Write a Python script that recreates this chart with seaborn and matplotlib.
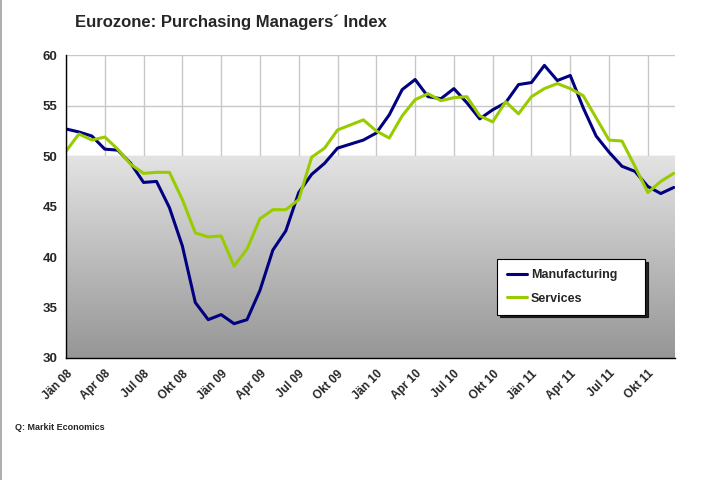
import numpy as np
import pandas as pd
import matplotlib
matplotlib.use("Agg")
import matplotlib.pyplot as plt
import seaborn as sns

months = ["Jän", "Feb", "Mär", "Apr", "Mai", "Jun", "Jul", "Aug", "Sep", "Okt", "Nov", "Dez"]
years = ["08", "09", "10", "11"]
period_labels = [f"{m} {y}" for y in years for m in months]

manufacturing = [52.7, 52.4, 52.0, 50.7, 50.6, 49.3, 47.4, 47.5, 44.9, 41.1, 35.5, 33.8,
                 34.3, 33.4, 33.8, 36.7, 40.7, 42.6, 46.4, 48.2, 49.3, 50.8, 51.2, 51.6,
                 52.3, 54.1, 56.6, 57.6, 55.9, 55.7, 56.7, 55.3, 53.7, 54.6, 55.3, 57.1,
                 57.3, 59.0, 57.5, 58.0, 54.8, 52.0, 50.4, 49.0, 48.5, 47.0, 46.3, 46.9]
services = [50.5, 52.2, 51.6, 51.9, 50.7, 49.2, 48.3, 48.4, 48.4, 45.7, 42.4, 42.0,
            42.1, 39.1, 40.8, 43.8, 44.7, 44.7, 45.7, 49.9, 50.8, 52.6, 53.1, 53.6,
            52.5, 51.8, 54.0, 55.6, 56.2, 55.5, 55.8, 55.9, 54.0, 53.4, 55.4, 54.2,
            55.9, 56.7, 57.2, 56.7, 56.0, 53.8, 51.6, 51.5, 49.0, 46.4, 47.5, 48.3]
series_names = ["Manufacturing", "Services"]
series_colors = ["#000080", "#99cc00"]
y_ticks = [30, 35, 40, 45, 50, 55, 60]

df = pd.DataFrame({
    "idx": list(range(len(manufacturing))) * 2,
    "value": manufacturing + services,
    "series": [series_names[0]] * len(manufacturing) + [series_names[1]] * len(services),
})

sns.set_style("white")
plt.rcParams["font.family"] = ["Liberation Sans", "DejaVu Sans"]

fig = plt.figure(figsize=(7.11, 4.8), dpi=100)
ax = fig.add_axes([66 / 711, 1 - 358 / 480, (675 - 66) / 711, (358 - 55.3) / 480])

n = len(manufacturing)
xmax = n - 0.9

# gradient below 50 (light at 50, dark at 30)
grad = np.linspace(0, 1, 256).reshape(-1, 1)
cmap = matplotlib.colors.LinearSegmentedColormap.from_list("g", ["#e3e3e3", "#969696"])
ax.imshow(grad, extent=[0, xmax, 30, 50], aspect="auto", cmap=cmap, zorder=1,
          origin="upper")

sns.lineplot(data=df, x="idx", y="value", hue="series", palette=series_colors,
             linewidth=2.2, ax=ax, zorder=3, legend=True)
ax.set_xlim(0, xmax)
ax.set_ylim(30, 60)

xt = list(range(0, n, 3))
ax.set_xticks(xt)
ax.set_xticklabels([period_labels[i] for i in xt], rotation=45, ha="right",
                   rotation_mode="anchor", fontsize=8.5, fontweight="bold")
ax.set_yticks(y_ticks)
ax.set_yticklabels([str(v) for v in y_ticks], fontsize=9.5, fontweight="bold")
ax.tick_params(axis="both", direction="out", length=4, width=0.8, color="black", pad=2)
ax.tick_params(axis="x", pad=3)
ax.set_xlabel("")
ax.set_ylabel("")

ax.grid(True, color="#c8c8c8", linewidth=1, zorder=0)
ax.set_axisbelow(True)
for s in ["top", "right"]:
    ax.spines[s].set_visible(False)
for s in ["left", "bottom"]:
    ax.spines[s].set_color("black")
    ax.spines[s].set_linewidth(1)
    ax.spines[s].set_zorder(4)

handles, labels = ax.get_legend_handles_labels()
leg = ax.legend(handles, labels, loc="center", bbox_to_anchor=(0.708, 0.152, 0.243, 0.165),
                mode="expand", frameon=True, fancybox=False, shadow={"color": "black", "alpha": 0.8},
                prop={"weight": "bold", "size": 9}, handlelength=1.6, handletextpad=0.3,
                borderpad=0.8, labelspacing=0.9, borderaxespad=0)
leg.get_frame().set_edgecolor("black")
leg.get_frame().set_linewidth(0.8)
leg.set_zorder(5)

fig.text(75 / 711, 1 - 22 / 480, "Eurozone: Purchasing Managers´ Index", fontsize=12,
         fontweight="bold", va="center", ha="left")
fig.text(15 / 711, 1 - 427 / 480, "Q: Markit Economics", fontsize=6.5, fontweight="bold",
         va="center", ha="left")
fig.add_artist(plt.Line2D([1 / 711, 1 / 711], [0, 1], color="#a0a0a0", linewidth=1.2,
                          transform=fig.transFigure))

fig.savefig("out.png", dpi=100)
